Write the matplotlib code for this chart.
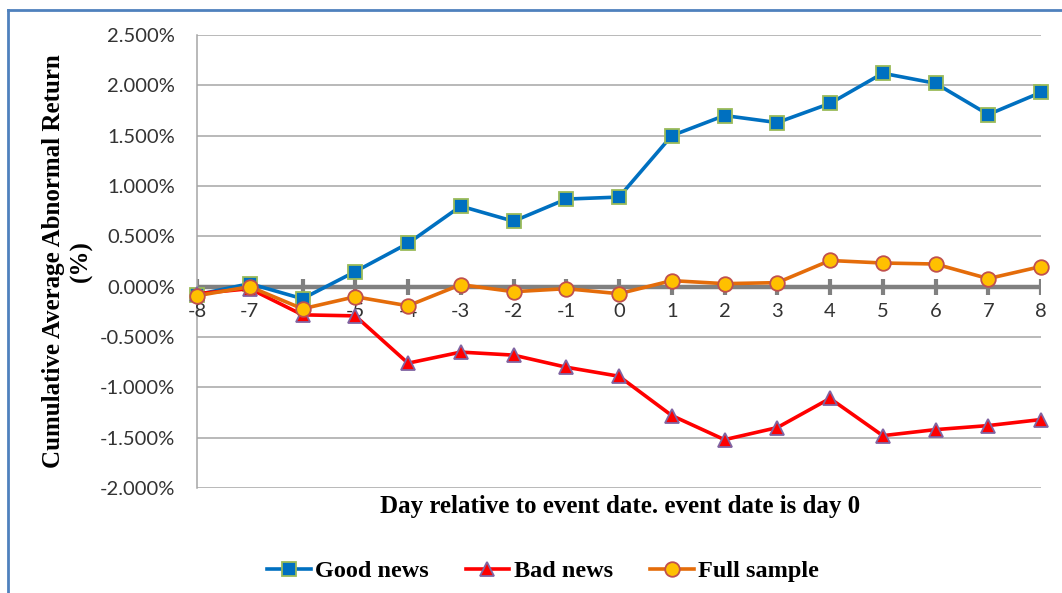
import matplotlib
matplotlib.use("Agg")
import matplotlib.pyplot as plt
from matplotlib.lines import Line2D
from matplotlib.ticker import FuncFormatter

days = [-8, -7, -6, -5, -4, -3, -2, -1, 0, 1, 2, 3, 4, 5, 6, 7, 8]
good_news = [-0.08, 0.03, -0.12, 0.15, 0.43, 0.80, 0.65, 0.87, 0.89, 1.50, 1.70, 1.63, 1.82, 2.12, 2.02, 1.71, 1.93]
bad_news = [-0.07, -0.02, -0.28, -0.29, -0.76, -0.65, -0.68, -0.80, -0.89, -1.28, -1.52, -1.40, -1.11, -1.48, -1.42, -1.38, -1.32]
full_sample = [-0.09, 0.00, -0.22, -0.10, -0.19, 0.02, -0.05, -0.02, -0.07, 0.06, 0.03, 0.04, 0.26, 0.235, 0.225, 0.08, 0.20]
y_ticks = [-2.0, -1.5, -1.0, -0.5, 0.0, 0.5, 1.0, 1.5, 2.0, 2.5]

W, H = 1062, 593
fig = plt.figure(figsize=(W / 100, H / 100), dpi=100)
ax = fig.add_axes([197 / W, 1 - 488 / H, (1041 - 197) / W, (488 - 35) / H])

grid_c = "#a6a6a6"
for yv in y_ticks:
    if yv != 0:
        ax.axhline(yv, color=grid_c, lw=1.1, zorder=1)

sans = ["Lato", "DejaVu Sans"]
ax.set_xlim(-8, 8)
ax.set_ylim(-2.0, 2.5)
ax.set_yticks(y_ticks)
ax.yaxis.set_major_formatter(FuncFormatter(lambda v, p: f"{v:.3f}%"))
for lab in ax.get_yticklabels():
    lab.set_fontfamily(sans)
    lab.set_fontsize(14.5)
    lab.set_color("#333333")
ax.tick_params(axis="y", length=0, pad=16)
for s in ["top", "right", "bottom"]:
    ax.spines[s].set_visible(False)
ax.spines["left"].set_color(grid_c)
ax.spines["left"].set_linewidth(1.1)

# zero axis with crossing ticks
ax.axhline(0, color="#808080", lw=3.2, zorder=2)
ax.set_xticks([])
for d in days:
    ax.plot([d, d], [-0.08, 0.08], color="#808080", lw=3.0, zorder=2, solid_capstyle="butt")
    ax.text(d, -0.16, str(d), ha="center", va="top", fontsize=14.5,
            family=sans, color="#333333", zorder=3)

ax.plot(days, good_news, color="#0070C0", lw=2.6, marker="s", ms=10,
        mfc="#0070C0", mec="#9BBB59", mew=1.3, zorder=4, label="Good news", clip_on=False)
ax.plot(days, bad_news, color="#FF0000", lw=2.6, marker="^", ms=10.5,
        mfc="#FF0000", mec="#8064A2", mew=1.3, zorder=5, label="Bad news", clip_on=False)
ax.plot(days, full_sample, color="#E46C0A", lw=2.6, marker="o", ms=10.5,
        mfc="#FFC000", mec="#C0504D", mew=1.3, zorder=6, label="Full sample", clip_on=False)

serif = ["Liberation Serif", "DejaVu Serif"]
fig.text(67 / W, 1 - 261 / H, "Cumulative Average Abnormal Return\n(%)", rotation=90,
         ha="center", va="center", fontsize=18, fontweight="bold", family=serif,
         linespacing=1.25, multialignment="center")
fig.text(620 / W, 1 - 507 / H, "Day relative to event date. event date is day 0",
         ha="center", va="center", fontsize=18, fontweight="bold", family=serif)

leg = fig.legend(loc="center", bbox_to_anchor=(543 / W, 1 - 571 / H), ncol=3, frameon=False,
                 prop=dict(family=serif, weight="bold", size=17.5), handlelength=1.8,
                 handletextpad=0.2, columnspacing=1.5)

fig.add_artist(Line2D([8 / W, 1], [1 - 10 / H, 1 - 10 / H], transform=fig.transFigure,
                      color="#4F81BD", lw=2))
fig.add_artist(Line2D([8 / W, 8 / W], [0, 1 - 10 / H], transform=fig.transFigure,
                      color="#4F81BD", lw=2))

fig.savefig("out.png", dpi=100)
